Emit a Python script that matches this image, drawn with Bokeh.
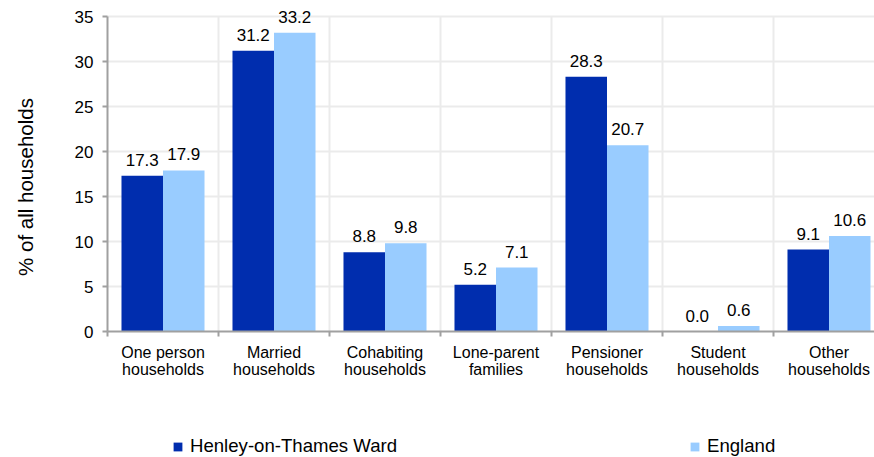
import math
from bokeh.plotting import figure
from bokeh.models import (Range1d, FixedTicker, Legend, LegendItem, LabelSet, Label,
                          ColumnDataSource)
from bokeh.core.properties import value
from bokeh.embed import file_html
from bokeh.resources import INLINE

categories = ["One person\nhouseholds", "Married\nhouseholds", "Cohabiting\nhouseholds",
              "Lone-parent\nfamilies", "Pensioner\nhouseholds", "Student\nhouseholds",
              "Other\nhouseholds"]
henley = [17.3, 31.2, 8.8, 5.2, 28.3, 0.0, 9.1]
england = [17.9, 33.2, 9.8, 7.1, 20.7, 0.6, 10.6]
series_names = ["Henley-on-Thames Ward", "England"]
y_ticks = [0, 5, 10, 15, 20, 25, 30, 35]

DARK = "#002DAE"
LIGHT = "#99CCFF"
GRID = "#EBEBEB"
AXIS = "#A0A0A0"
FONT = "Liberation Sans"

W, H = 874, 457
LEFT_PX, ZERO_PX = 107, 331      # page position of the plot origin
CAT_PX, UNIT_PX = 111, 9         # pixels per category / per percentage point

n = len(categories)
idx = list(range(n))
bw = 0.374

src_h = ColumnDataSource(dict(x=[i + 0.126 + bw / 2 for i in idx], top=henley,
                              lab=["%.1f" % v for v in henley]))
src_e = ColumnDataSource(dict(x=[i + 0.126 + bw * 1.5 for i in idx], top=england,
                              lab=["%.1f" % v for v in england]))

p = figure(width=W, height=H, output_backend="svg", toolbar_location=None,
           x_range=Range1d(-LEFT_PX / CAT_PX, (W - LEFT_PX) / CAT_PX),
           y_range=Range1d(-(H - ZERO_PX) / UNIT_PX, ZERO_PX / UNIT_PX),
           min_border=0)
p.outline_line_color = None
p.background_fill_color = "white"
p.xgrid.visible = False
p.ygrid.visible = False

# grid lines limited to the plotting area
p.segment(x0=[0] * (len(y_ticks) - 1), x1=[n] * (len(y_ticks) - 1),
          y0=y_ticks[1:], y1=y_ticks[1:], line_color=GRID, line_width=2)
p.segment(x0=list(range(1, n + 1)), x1=list(range(1, n + 1)),
          y0=[y_ticks[0]] * n, y1=[y_ticks[-1]] * n, line_color=GRID, line_width=2)

rh = p.vbar(x="x", top="top", width=bw, source=src_h, fill_color=DARK, line_color=None)
re_ = p.vbar(x="x", top="top", width=bw, source=src_e, fill_color=LIGHT, line_color=None)

for s in (src_h, src_e):
    p.add_layout(LabelSet(x="x", y="top", text="lab", source=s, text_align="center",
                          text_baseline="alphabetic", y_offset=10, text_font=value(FONT),
                          text_font_size="17px", text_color="black"))

# y axis
ya = p.yaxis[0]
ya.fixed_location = 0
ya.bounds = (y_ticks[0], y_ticks[-1])
ya.ticker = FixedTicker(ticks=y_ticks)
ya.axis_line_color = AXIS
ya.axis_line_width = 2
ya.major_tick_line_color = AXIS
ya.major_tick_line_width = 2
ya.major_tick_out = 5
ya.major_tick_in = 0
ya.minor_tick_line_color = None
ya.major_label_text_font = FONT
ya.major_label_text_font_size = "17px"
ya.major_label_text_color = "black"
ya.major_label_standoff = 9

p.add_layout(Label(x=25, y=H - 186.5, x_units="screen", y_units="screen",
                   text="% of all households", angle=math.pi / 2, text_align="center",
                   text_baseline="middle", text_font=FONT, text_font_size="20.5px",
                   text_color="black"))

# x axis
xa = p.xaxis[0]
xa.fixed_location = 0
xa.bounds = (0, n + 1)
centers = [i + 0.5 for i in idx]
xa.ticker = FixedTicker(ticks=centers, minor_ticks=[i for i in range(n + 1)])
xa.major_label_overrides = {c: lab for c, lab in zip(centers, categories)}
xa.axis_line_color = AXIS
xa.axis_line_width = 2
xa.major_tick_line_color = None
xa.major_tick_out = 0
xa.major_tick_in = 0
xa.minor_tick_line_color = AXIS
xa.minor_tick_line_width = 2
xa.minor_tick_out = 5
xa.minor_tick_in = 0
xa.major_label_text_font = FONT
xa.major_label_text_font_size = "16px"
xa.major_label_text_color = "black"
xa.major_label_text_line_height = 1.05
xa.major_label_standoff = 7

# legends
for r, name, xloc in ((rh, series_names[0], 172), (re_, series_names[1], 689)):
    lg = Legend(items=[LegendItem(label=name, renderers=[r])], location=(xloc, 0),
                glyph_width=11, glyph_height=11, label_text_font=FONT,
                label_text_font_size="18.6px", label_text_color="black",
                label_standoff=7, padding=0, margin=0, border_line_color=None,
                background_fill_alpha=0)
    p.add_layout(lg, "center")

open("out.html", "w").write(file_html(p, INLINE))
